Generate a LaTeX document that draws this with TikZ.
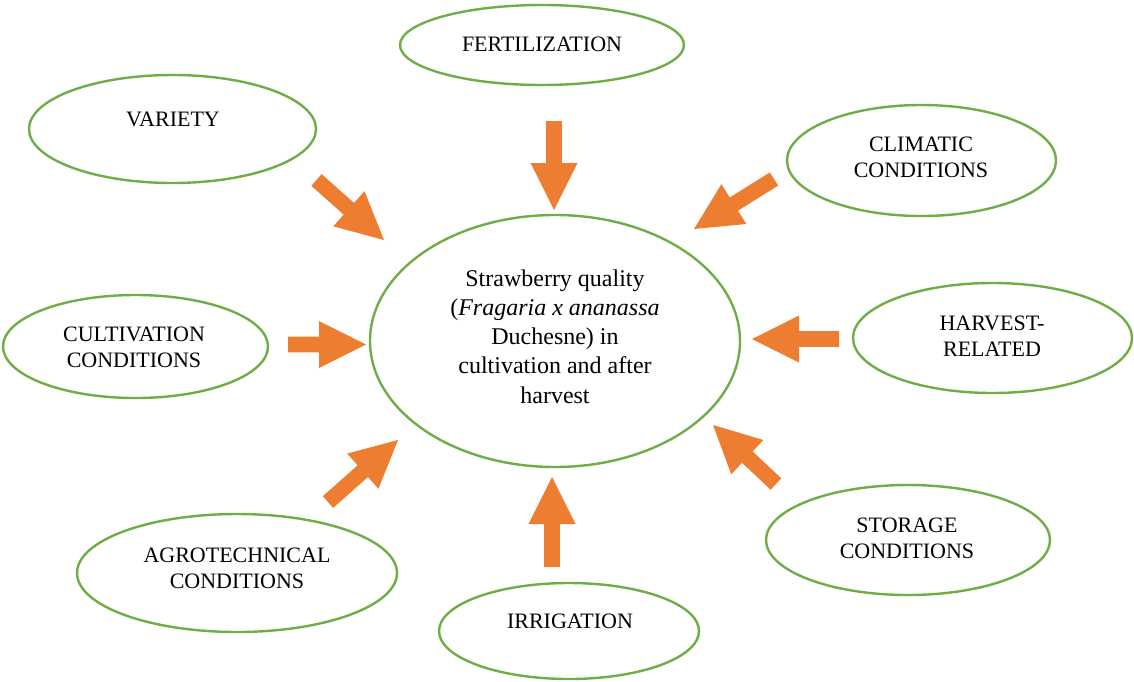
\documentclass[tikz,border=0pt]{standalone}
\usepackage{fontspec}
\setmainfont{Liberation Serif}
\usetikzlibrary{shapes.geometric,calc}
\definecolor{ringgreen}{HTML}{70AD47}
\definecolor{arroworange}{HTML}{ED7D31}
\tikzset{
  ring/.style={ellipse, draw=ringgreen, line width=2.4pt, inner sep=0pt, fill=white},
  lbl/.style={align=center, inner sep=0pt, font=\fontsize{22}{26}\selectfont},
  mainlbl/.style={align=center, inner sep=0pt, font=\fontsize{24}{29.2}\selectfont},
  blockfill/.style={fill=arroworange, draw=none}
}
\newcommand{\blockarrow}[2]{%
  \path (#1) coordinate (bt) (#2) coordinate (bp);
  \path ($(bp)!47pt!(bt)$) coordinate (bh);
  \fill[blockfill] ($(bt)!7.8pt!90:(bp)$) -- ($(bh)!7.8pt!90:(bp)$) -- ($(bh)!23.5pt!90:(bp)$) -- (bp)
    -- ($(bh)!23.5pt!-90:(bp)$) -- ($(bh)!7.8pt!-90:(bp)$) -- ($(bt)!7.8pt!-90:(bp)$) -- cycle;
}
\begin{document}
\begin{tikzpicture}[x=1pt,y=-1pt]
\useasboundingbox (0,0) rectangle (1134,681);
% ellipses
\node[ring, minimum width=370pt, minimum height=252pt] (main) at (555,341) {};
\node[ring, minimum width=284pt, minimum height=80pt] (fert) at (542,45) {};
\node[ring, minimum width=287pt, minimum height=108pt] (var) at (172.5,129) {};
\node[ring, minimum width=269pt, minimum height=111pt] (clim) at (921.5,160.5) {};
\node[ring, minimum width=265pt, minimum height=103pt] (cult) at (135.5,346.5) {};
\node[ring, minimum width=279pt, minimum height=110pt] (harv) at (992.5,338) {};
\node[ring, minimum width=320pt, minimum height=118pt] (agro) at (237,573) {};
\node[ring, minimum width=260pt, minimum height=96pt] (irr) at (569,631) {};
\node[ring, minimum width=284pt, minimum height=110pt] (stor) at (908,540) {};
% labels
\node[mainlbl] (tmain) at (555,336.5) {Strawberry quality\\(\textit{Fragaria x ananassa}\\Duchesne) in\\cultivation and after\\harvest};
\node[lbl] (tfert) at (542,44) {FERTILIZATION};
\node[lbl] (tvar) at (173,119) {VARIETY};
\node[lbl] (tclim) at (921,157.5) {CLIMATIC\\CONDITIONS};
\node[lbl] (tcult) at (134,347.5) {CULTIVATION\\CONDITIONS};
\node[lbl] (tharv) at (992,336) {HARVEST-\\RELATED};
\node[lbl] (tagro) at (237,568.5) {AGROTECHNICAL\\CONDITIONS};
\node[lbl] (tirr) at (570,621) {IRRIGATION};
\node[lbl] (tstor) at (907,538) {STORAGE\\CONDITIONS};
% arrow end points
\coordinate (a1t) at (316.5,180);  \coordinate (a1p) at (384,240);
\coordinate (a2t) at (554,121);    \coordinate (a2p) at (554,210);
\coordinate (a3t) at (774,179);    \coordinate (a3p) at (694,229);
\coordinate (a4t) at (288,344.5);  \coordinate (a4p) at (366,344.5);
\coordinate (a5t) at (839,339);    \coordinate (a5p) at (752,339);
\coordinate (a6t) at (328,502);    \coordinate (a6p) at (398,440);
\coordinate (a7t) at (552,567);    \coordinate (a7p) at (552,477);
\coordinate (a8t) at (776,484);    \coordinate (a8p) at (713,425);
\blockarrow{a1t}{a1p}
\blockarrow{a2t}{a2p}
\blockarrow{a3t}{a3p}
\blockarrow{a4t}{a4p}
\blockarrow{a5t}{a5p}
\blockarrow{a6t}{a6p}
\blockarrow{a7t}{a7p}
\blockarrow{a8t}{a8p}
\end{tikzpicture}
\end{document}
